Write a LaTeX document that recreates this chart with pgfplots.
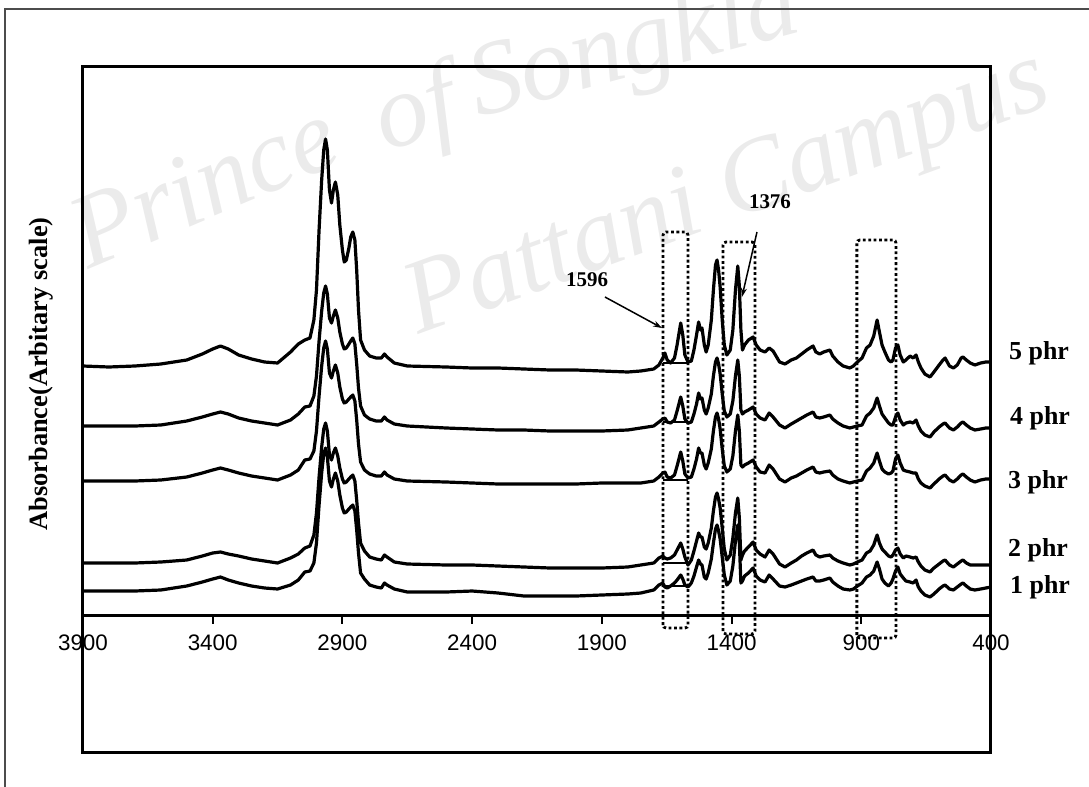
\documentclass[border=0pt]{standalone}
\usepackage{pgfplots}
\pgfplotsset{compat=1.18}
\usepackage{pgfplotstable}
\usetikzlibrary{arrows.meta}
\usepackage{fontspec}
\setmainfont{Liberation Serif}
\newfontfamily\arialfont{Liberation Sans}

% FTIR spectra: height of each trace above its own baseline (arbitrary units)
\pgfplotstableread{
wn   p5   p4   p3   p2   p1
3900 0    0    0    0    0
3800 -1   0    0    0    0
3700 0    0    0    0    0
3600 2    1    1    1    1
3500 6    5    4    3    5
3440 12   9    8    7    9
3400 17   12   11   10   12
3370 20   14   13   11   14
3340 17   12   11   9    11
3300 11   8    8    7    8
3250 7    5    5    4    5
3200 4    3    3    2    3
3150 3    1    1    0    2
3100 14   6    6    5    6
3070 22   12   11   9    11
3045 26   19   21   15   19
3025 28   20   22   17   20
3010 46   30   30   28   28
3000 76   50   50   50   48
2990 136  85   85   86   86
2980 186  115  115  116  118
2972 216  133  133  134  137
2965 227  140  140  140  143
2958 216  132  132  132  134
2950 176  108  108  108  110
2942 163  103  103  103  104
2935 176  110  110  110  112
2927 184  116  116  115  118
2918 171  108  108  107  110
2910 141  94   94   95   96
2900 116  82   82   84   83
2893 104  77   78   80   78
2885 106  78   79   81   79
2875 118  82   82   84   82
2868 129  85   84   86   84
2860 134  88   86   88   86
2852 126  82   80   82   80
2845 96   62   61   63   61
2838 56   38   37   40   38
2830 26   20   19   20   18
2815 16   11   11   12   12
2795 10   7    7    6    6
2770 8    5    5    4    4
2750 8    5    5    3    3
2738 12   9    9    8    8
2728 9    6    6    6    6
2700 3    2    2    1    2
2650 0    0    0    -1   -1
2500 -1   -2   -1   -2   -1
2400 -2   -3   -2   -2   0
2300 -2   -4   -3   -3   -2
2200 -3   -4   -3   -4   -5
2100 -4   -5   -3   -5   -5
2000 -4   -5   -3   -5   -5
1900 -5   -5   -2   -5   -4
1800 -6   -4   -2   -4   -3
1750 -5   -2   -2   -2   -2
1700 -3   0    0    0    1
1680 1    4    4    5    6
1665 8    7    8    7    8
1657 13   8    9    5    4
1648 6    4    4    4    3
1635 3    3    3    5    5
1620 8    6    6    8    8
1610 21   15   15   13   11
1596 43   29   29   20   16
1588 31   20   20   14   12
1580 11   7    7    6    6
1568 4    3    3    -2   4
1555 5    4    4    3    8
1545 16   12   12   12   15
1535 31   22   22   22   24
1527 44   33   33   30   31
1520 36   27   28   26   27
1514 38   28   28   26   26
1505 21   16   16   16   14
1498 14   12   12   14   12
1490 21   18   18   20   18
1478 46   32   32   35   32
1470 76   50   50   52   48
1462 101  64   64   66   62
1456 106  68   68   70   66
1450 96   62   62   64   60
1444 79   52   52   55   52
1436 46   32   32   35   34
1428 21   15   15   14   16
1418 11   9    9    3    6
1405 16   12   12   8    10
1395 36   25   25   25   25
1385 76   50   50   50   50
1376 100  66   66   65   66
1370 80   50   50   45   48
1364 36   16   16   3    8
1358 16   12   14   8    10
1350 21   14   16   12   15
1335 26   16   18   16   18
1317 29   19   21   21   23
1305 21   12   14   13   15
1290 16   8    9    9    11
1271 14   6    8    6    9
1255 18   13   16   13   16
1240 15   9    12   9    12
1215 4    1    2    -1   5
1194 2    -2   -1   -4   4
1170 6    2    3    0    6
1150 8    5    5    3    8
1130 12   8    8    7    10
1110 16   11   11   10   12
1086 20   14   14   13   14
1075 14   9    9    8    10
1060 12   8    8    6    10
1045 14   9    9    7    11
1021 16   11   10   8    13
1010 10   7    6    5    9
990  4    3    2    2    5
970  0    0    0    0    2
944  -2   -2   -2   -2   1
930  0    -1   -1   -1   2
915  4    0    0    1    5
897  8    1    1    3    8
880  18   10   10   10   14
866  21   13   13   12   16
852  30   18   18   18   20
839  46   28   28   28   29
830  34   20   20   20   22
820  21   12   12   14   12
809  14   8    9    11   8
795  6    3    7    7    5
785  4    1    8    6    8
778  6    1    10   8    12
768  18   9    22   13   20
759  21   13   26   15   24
750  11   6    18   9    17
738  4    1    11   5    13
728  6    3    10   7    10
712  10   4    9    6    9
700  8    3    8    5    8
689  11   6    8    6    11
680  4    0    2    1    4
670  -2   -5   -2   -3   0
655  -8   -9   -5   -7   -4
635  -11  -11  -7   -9   -6
620  -6   -6   -3   -5   -3
600  1    -1   2    -1   2
585  6    2    5    2    5
577  8    3    6    3    6
560  0    -2   1    -2   2
545  -2   -4   -1   -4   1
530  1    -1   2    -1   4
515  8    3    6    2    7
508  9    4    7    3    8
495  6    1    4    0    5
480  3    -2   1    -2   2
462  1    -4   -1   -2   1
440  3    -3   1    -2   2
420  4    -2   2    -2   3
400  4    -2   2    -2   4
}\spectra

\begin{document}
\begin{tikzpicture}[
  trace/.style={black, line width=3.2bp, line join=round},
  base/.style={black, line width=2bp},
  box/.style={black, line width=2.8bp, dash pattern=on 2.8bp off 2.6bp, rounded corners=3bp},
  callout/.style={line width=1.5bp, -{Stealth[length=9bp,width=6bp]}},
]
% faint archive watermark
\begin{scope}[text=black!8, font=\itshape\fontsize{105}{105}\selectfont]
  \node[anchor=base west, rotate=23, inner sep=0] at (88bp,-270bp) {Prince};
  \node[anchor=base west, rotate=17, inner sep=0] at (385bp,-152bp) {of};
  \node[anchor=base west, rotate=15, inner sep=0] at (478bp,-118bp) {Songkla};
  \node[anchor=base west, rotate=20, inner sep=0] at (418bp,-335bp) {Pattani Campus};
\end{scope}

% page frame
\draw[line width=1.3bp, black!70] (5bp,-787bp) -- (5bp,-9bp) -- (1089bp,-9bp);

\begin{axis}[
  at={(83bp,-66bp)}, anchor=north west,
  scale only axis, width=908bp, height=686bp,
  xmin=400, xmax=3900, x dir=reverse,
  ymin=-137, ymax=549,
  axis x line=middle, axis y line=none,
  x axis line style={-, line width=3bp},
  xtick={3900,3400,2900,2400,1900,1400,900,400},
  xticklabels={3900,3400,2900,2400,1900,1400,900,400},
  hide obscured x ticks=false,
  xtick style={draw=none},
  xticklabel style={font=\arialfont\fontsize{22.5}{26}\selectfont, anchor=north, yshift=-14bp},
  ytick=\empty,
  clip=false,
]
\draw[line width=3bp] (rel axis cs:0,0) rectangle (rel axis cs:1,1);

% tick marks below the wavenumber axis
\pgfplotsinvokeforeach{3400,2900,2400,1900,1400,900}{
  \draw[line width=2bp] (axis cs:#1,0) -- (axis cs:#1,-9);
}

\addplot[trace] table[x=wn, y expr=\thisrow{p5}+249] {\spectra};
\addplot[trace] table[x=wn, y expr=\thisrow{p4}+189] {\spectra};
\addplot[trace] table[x=wn, y expr=\thisrow{p3}+134] {\spectra};
\addplot[trace] table[x=wn, y expr=\thisrow{p2}+52] {\spectra};
\addplot[trace] table[x=wn, y expr=\thisrow{p1}+24] {\spectra};

% baselines under the 1596 band
\addplot[base] coordinates {(1664,252) (1568,252)};
\addplot[base] coordinates {(1664,193) (1568,193)};
\addplot[base] coordinates {(1664,135) (1568,135)};
\addplot[base] coordinates {(1664,52) (1568,52)};
\addplot[base] coordinates {(1664,29) (1568,29)};

% highlighted bands
\draw[box] (axis cs:1664,-13) rectangle (axis cs:1568,383);
\draw[box] (axis cs:1433,-19) rectangle (axis cs:1310,373);
\draw[box] (axis cs:917,-23) rectangle (axis cs:766,375);

% band labels
\node[font=\bfseries\fontsize{21}{24}\selectfont] at (axis cs:1957,335) {1596};
\draw[callout] (axis cs:1888,318) -- (axis cs:1668,287);
\node[font=\bfseries\fontsize{21}{24}\selectfont] at (axis cs:1252,413) {1376};
\draw[callout] (axis cs:1302,383) -- (axis cs:1360,318);
\end{axis}

% series labels
\begin{scope}[font=\bfseries\fontsize{26}{28}\selectfont]
  \node[anchor=west, inner sep=0] at (1009bp,-353bp) {5 phr};
  \node[anchor=west, inner sep=0] at (1010bp,-418bp) {4 phr};
  \node[anchor=west, inner sep=0] at (1008bp,-482bp) {3 phr};
  \node[anchor=west, inner sep=0] at (1008bp,-550bp) {2 phr};
  \node[anchor=west, inner sep=0] at (1010bp,-587bp) {1 phr};
\end{scope}

% y-axis title
\node[rotate=90, font=\bfseries\fontsize{26.5}{28}\selectfont] at (41bp,-374bp) {Absorbance(Arbitary scale)};

\pgfresetboundingbox
\useasboundingbox (0,0) rectangle (1089bp,-787bp);
\end{tikzpicture}
\end{document}
